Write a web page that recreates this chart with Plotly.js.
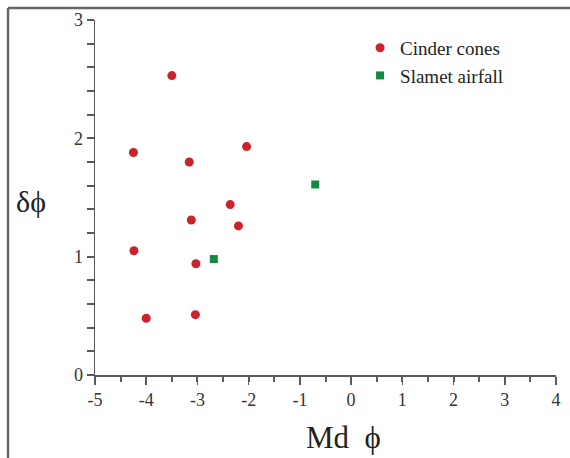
<!DOCTYPE html>
<html>
<head>
<meta charset="utf-8">
<script src="https://cdn.plot.ly/plotly-3.0.1.min.js"></script>
<style>html,body{margin:0;padding:0;background:#fff}#chart{width:570px;height:458px}</style>
</head>
<body>
<div id="chart"></div>
<script>
// Cinder cones
var cinderMd = [-3.50, -4.25, -3.16, -2.04, -2.36, -3.12, -2.20, -4.24, -3.03, -4.00, -3.04];
var cinderSd = [2.53, 1.88, 1.80, 1.93, 1.44, 1.31, 1.26, 1.05, 0.94, 0.48, 0.51];
// Slamet airfall
var slametMd = [-2.68, -0.70];
var slametSd = [0.98, 1.61];
var seriesNames = ['Cinder cones', 'Slamet airfall'];
// tick labels
var xTickVals = [-5, -4, -3, -2, -1, 0, 1, 2, 3, 4];
var xTickText = ['-5', '-4', '-3', '-2', '-1', '0', '1', '2', '3', '4'];
var yTickVals = [0, 1, 2, 3];
var yTickText = ['0', '1', '2', '3'];
var xTitle = 'Md  \u03D5';
var yTitle = '\u03B4\u03D5';

var serif = 'Liberation Serif, Times New Roman, serif';
var axisGray = '#5a5a5a';

var traces = [
  {x: cinderMd, y: cinderSd, name: seriesNames[0], type: 'scatter', mode: 'markers',
   marker: {symbol: 'circle', size: 9, color: '#cc2229'}},
  {x: slametMd, y: slametSd, name: seriesNames[1], type: 'scatter', mode: 'markers',
   marker: {symbol: 'square', size: 8, color: '#138a3e'}}
];

var axisCommon = {
  showgrid: false, zeroline: false, showline: true, linecolor: axisGray, linewidth: 1.5,
  ticks: 'outside', tickcolor: axisGray, tickwidth: 1.5, ticklen: 7,
  tickfont: {family: serif, size: 18, color: '#333'}
};

var layout = {
  width: 570, height: 458,
  margin: {l: 95, r: 14, t: 20, b: 83},
  paper_bgcolor: '#fff', plot_bgcolor: '#fff',
  showlegend: true,
  legend: {x: 0.575, y: 0.975, xanchor: 'left', yanchor: 'top',
           font: {family: serif, size: 19, color: '#222'}, bgcolor: 'rgba(0,0,0,0)',
           tracegroupgap: 0},
  xaxis: Object.assign({}, axisCommon, {range: [-5, 4], tickmode: 'array',
    tickvals: xTickVals, ticktext: xTickText, ticklen: 8,
    minor: {tickmode: 'linear', tick0: 0, dtick: 0.5, ticks: 'outside', ticklen: 5, tickcolor: axisGray, tickwidth: 2}}),
  yaxis: Object.assign({}, axisCommon, {range: [0, 3], tickmode: 'array',
    tickvals: yTickVals, ticktext: yTickText, ticklen: 7,
    minor: {tickmode: 'linear', tick0: 0, dtick: 0.2, ticks: 'outside', ticklen: 7, tickcolor: axisGray, tickwidth: 2}}),
  shapes: [
    {type: 'line', xref: 'paper', yref: 'paper', x0: -0.1887, x1: -0.1887, y0: 1.0338, y1: -0.4,
     line: {color: '#666', width: 2.5}},
    {type: 'line', xref: 'paper', yref: 'paper', x0: -0.1887, x1: 1.2, y0: 1.0338, y1: 1.0338,
     line: {color: '#666', width: 2.5}}
  ],
  annotations: [
    {text: xTitle, xref: 'paper', yref: 'paper', x: 0.538, y: -0.177, xanchor: 'center', yanchor: 'middle',
     showarrow: false, font: {family: serif, size: 31, color: '#222'}},
    {text: yTitle, xref: 'paper', yref: 'paper', x: -0.139, y: 0.49, xanchor: 'center', yanchor: 'middle',
     showarrow: false, font: {family: serif, size: 30, color: '#222'}}
  ]
};

Plotly.newPlot('chart', traces, layout, {displayModeBar: false, staticPlot: true});
</script>
</body>
</html>
